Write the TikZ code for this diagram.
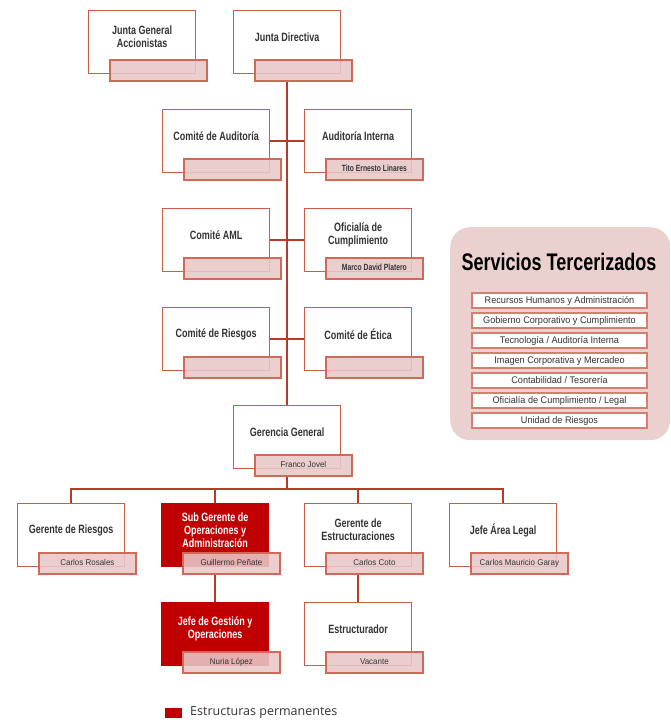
\documentclass[tikz,border=0pt]{standalone}
\usepackage{fontspec}
\setmainfont{Liberation Sans}
\newfontfamily\cndb[FakeStretch=0.75]{Liberation Sans}
\newfontfamily\nmr[FakeStretch=0.95]{Liberation Sans}
\newfontfamily\lgd{Open Sans}
\usetikzlibrary{calc,backgrounds}
\definecolor{boxline}{HTML}{CD5C45}
\definecolor{subfill}{HTML}{E8C8C8}
\definecolor{subline}{HTML}{D06A58}
\definecolor{trunk}{HTML}{B83A28}
\definecolor{permred}{HTML}{C00000}
\definecolor{panelfill}{HTML}{EBD0D0}
\definecolor{itemline}{HTML}{D4806F}
\definecolor{txt}{HTML}{333333}
\tikzset{
  mainbox/.style={draw=boxline, line width=1.4pt, fill=white, minimum width=107pt, minimum height=63pt, inner sep=0pt},
  permbox/.style={draw=permred, line width=1.4pt, fill=permred, minimum width=107pt, minimum height=63pt, inner sep=0pt},
  titletxt/.style={text=txt, align=center, inner sep=0pt, font=\cndb\bfseries\fontsize{12}{13}\selectfont},
  permtxt/.style={text=white, align=center, inner sep=0pt, font=\cndb\bfseries\fontsize{12}{13}\selectfont},
  subbox/.style={draw=subline, line width=1.8pt, fill=subfill, fill opacity=0.88, text opacity=1, text=txt, minimum width=97pt, minimum height=21pt, inner sep=0pt, text height=6.5pt, text depth=1.5pt},
  conn/.style={draw=trunk, line width=1.5pt},
  itembox/.style={draw=itemline, line width=1.2pt, fill=white, minimum width=175pt, minimum height=15pt, inner sep=0pt, text=txt, text height=7pt, text depth=2pt, font=\nmr\fontsize{9.6}{10}\selectfont}
}
\newcommand\nmb{\cndb\bfseries\fontsize{9}{10}\selectfont}
\newcommand\nmn{\nmr\fontsize{8.4}{9}\selectfont}
\newcommand\orgunit[6]{%
  \node[#5, anchor=north west] (#1) at (#2,#3) {};
  \node[#6] (#1-t) at ($(#1.north)+(0,27)$) {#4};
}
\newcommand\orgsub[2]{%
  \node[subbox, anchor=north west] (#1-s) at ($(#1.north west)+(21,49)$) {#2};
}
\begin{document}
\begin{tikzpicture}[x=1pt,y=-1pt]
\useasboundingbox (0,0) rectangle (671,722);
% boxes
\orgunit{jga}{88}{10}{Junta General\\Accionistas}{mainbox}{titletxt}
\orgsub{jga}{}
\orgunit{jd}{233}{10}{Junta Directiva}{mainbox}{titletxt}
\orgsub{jd}{}
\orgunit{ca}{162}{109}{Comité de Auditoría}{mainbox}{titletxt}
\orgsub{ca}{}
\orgunit{ai}{304}{109}{Auditoría Interna}{mainbox}{titletxt}
\orgsub{ai}{\nmb Tito Ernesto Linares}
\orgunit{aml}{162}{208}{Comité AML}{mainbox}{titletxt}
\orgsub{aml}{}
\orgunit{oc}{304}{208}{Oficialía de\\Cumplimiento}{mainbox}{titletxt}
\orgsub{oc}{\nmb Marco David Platero}
\orgunit{cr}{162}{307}{Comité de Riesgos}{mainbox}{titletxt}
\orgsub{cr}{}
\orgunit{ce}{304}{307}{Comité de Ética}{mainbox}{titletxt}
\orgsub{ce}{}
\orgunit{gg}{233}{405}{Gerencia General}{mainbox}{titletxt}
\orgsub{gg}{\nmn Franco Jovel}
\orgunit{gr}{17}{503}{Gerente de Riesgos}{mainbox}{titletxt}
\orgsub{gr}{\nmn Carlos Rosales}
\orgunit{sg}{161}{503}{Sub Gerente de\\Operaciones y\\Administración}{permbox}{permtxt}
\orgsub{sg}{\nmn Guillermo Peñate}
\orgunit{ge}{304}{503}{Gerente de\\Estructuraciones}{mainbox}{titletxt}
\orgsub{ge}{\nmn Carlos Coto}
\orgunit{jal}{449}{503}{Jefe Área Legal}{mainbox}{titletxt}
\orgsub{jal}{\nmn Carlos Mauricio Garay}
\orgunit{jg}{161}{602}{Jefe de Gestión y\\Operaciones}{permbox}{permtxt}
\orgsub{jg}{\nmn Nuria López}
\orgunit{es}{304}{602}{Estructurador}{mainbox}{titletxt}
\orgsub{es}{\nmn Vacante}
\coordinate (bus) at (287,489);
% connectors
\begin{scope}[on background layer]
\draw[conn] (jd.south |- jd-s.south) -- (gg.north);
\draw[conn] (gg.south |- gg-s.south) -- (gg.south |- bus);
\draw[conn] (ca.east) -- (ai.west);
\draw[conn] (aml.east) -- (oc.west);
\draw[conn] (cr.east) -- (ce.west);
\draw[conn] (gr.north) -- (gr.north |- bus) -- (jal.north |- bus) -- (jal.north);
\draw[conn] (sg.north |- bus) -- (sg.north);
\draw[conn] (ge.north |- bus) -- (ge.north);
\draw[conn] (sg.south |- sg-s.south) -- (jg.north);
\draw[conn] (ge.south |- ge-s.south) -- (es.north);
\end{scope}
% services panel
\node[draw=none, fill=panelfill, rounded corners=20pt, minimum width=220pt, minimum height=213pt, anchor=north west] (panel) at (450,227) {};
\node[text=black, inner sep=0pt, font=\cndb\bfseries\fontsize{24}{26}\selectfont] (ptitle) at (559,262) {Servicios Tercerizados};
\node[itembox] (i1) at (559.5,300.5) {Recursos Humanos y Administración};
\node[itembox] (i2) at (559.5,320.5) {Gobierno Corporativo y Cumplimiento};
\node[itembox] (i3) at (559.5,340.5) {Tecnología / Auditoría Interna};
\node[itembox] (i4) at (559.5,360.5) {Imagen Corporativa y Mercadeo};
\node[itembox] (i5) at (559.5,380.5) {Contabilidad / Tesorería};
\node[itembox] (i6) at (559.5,400.5) {Oficialía de Cumplimiento / Legal};
\node[itembox] (i7) at (559.5,420.5) {Unidad de Riesgos};
% legend
\node[fill=permred, minimum width=17pt, minimum height=10pt, inner sep=0pt, anchor=north west] (lgsq) at (165,708) {};
\node[anchor=west, inner sep=0pt, text=txt, font=\lgd\fontsize{12.5}{14}\selectfont] (lgtxt) at (190,713) {Estructuras permanentes};
\end{tikzpicture}
\end{document}
